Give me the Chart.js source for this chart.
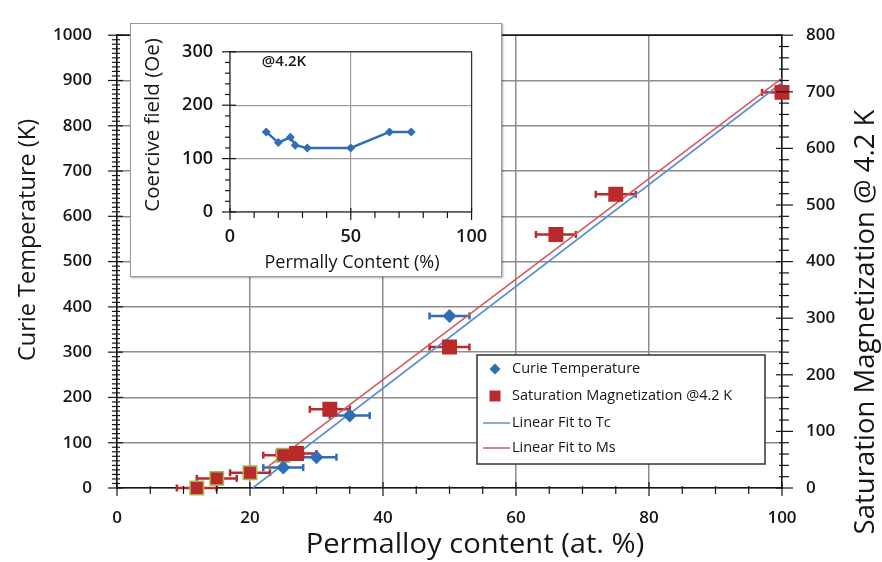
<!DOCTYPE html>
<html>
<head>
<meta charset="utf-8">
<script src="https://cdn.jsdelivr.net/npm/chart.js@4.4.1/dist/chart.umd.min.js"></script>
<style>
  html, body { margin: 0; padding: 0; background: #fff; }
  #wrap { position: relative; width: 882px; height: 562px; }
  #main { position: absolute; left: 0; top: 0; }
  #insetBox { position: absolute; left: 130px; top: 23px; width: 370px; height: 252px;
              background: #fff; border: 1px solid #9a9a9a; box-shadow: 1px 1px 2px rgba(0,0,0,0.35); }
  #inset { position: absolute; left: 0; top: 0; }
</style>
</head>
<body>
<div id="wrap">
  <canvas id="main" width="882" height="562"></canvas>
  <div id="insetBox"><canvas id="inset" width="370" height="252"></canvas></div>
</div>
<script>
// Curie temperature (left axis, K)
const tcContent = [25, 30, 35, 50];
const curieTemp = [45, 68, 160, 380];
const tcError = [3, 3, 3, 3];

// Saturation magnetization @4.2 K (right axis)
const msContent = [12, 15, 20, 25, 27, 32, 50, 66, 75, 100];
const satMag = [0, 17, 27, 58, 61, 139, 249, 448, 519, 699];
const msError = [3, 3, 3, 3, 3, 3, 3, 3, 3, 3];

// linear fits (end points)
const fitTcContent = [20.4, 100];
const fitTc = [0, 895];
const fitMsContent = [22.5, 100];
const fitMs = [36, 724];

// inset: coercive field @4.2K
const hcContent = [15, 20, 25, 27, 32, 50, 66, 75];
const coerciveField = [150, 130, 140, 125, 120, 120, 150, 150];

// tick labels
const xTicks = [0, 20, 40, 60, 80, 100];
const tcTicks = [0, 100, 200, 300, 400, 500, 600, 700, 800, 900, 1000];
const msTicks = [0, 100, 200, 300, 400, 500, 600, 700, 800];
const insetXTicks = [0, 50, 100];
const insetYTicks = [0, 100, 200, 300];

const BLUE = '#2f6db5';
const RED = '#bb2a2a';
const BLUE_FIT = '#5b90d2';
const RED_FIT = '#d4585a';
const OLIVE = '#9bbb59';
const GRID = '#8c8c8c';
const INK = '#161616';
const FONT = '"Open Sans", "DejaVu Sans", sans-serif';

const pts = (xs, ys) => xs.map((x, i) => ({ x: x, y: ys[i] }));
const setTicks = list => scale => { scale.ticks = list.map(v => ({ value: v })); };
const plain = v => String(v);

function drawText(ctx, text, x, y, font, rot, stretch) {
    ctx.save();
    ctx.translate(x, y);
    ctx.rotate(rot || 0);
    ctx.scale(stretch || 1, 1);
    ctx.font = font;
    ctx.fillStyle = INK;
    ctx.textAlign = 'center';
    ctx.textBaseline = 'middle';
    ctx.fillText(text, 0, 0);
    ctx.restore();
}

function line(ctx, x1, y1, x2, y2) {
    ctx.beginPath();
    ctx.moveTo(x1, y1);
    ctx.lineTo(x2, y2);
    ctx.stroke();
}

// horizontal error bars, drawn under the markers
const errorBars = {
    id: 'errorBars',
    beforeDatasetsDraw(chart) {
        const ctx = chart.ctx, area = chart.chartArea, xs = chart.scales.x;
        chart.data.datasets.forEach(ds => {
            if (!ds.errX) return;
            const ys = chart.scales[ds.yAxisID];
            ctx.save();
            ctx.strokeStyle = ds.backgroundColor;
            ctx.lineWidth = 2.5;
            ds.data.forEach((p, i) => {
                const y = ys.getPixelForValue(p.y);
                const a = xs.getPixelForValue(p.x - ds.errX[i]);
                const b = xs.getPixelForValue(p.x + ds.errX[i]);
                const l = Math.max(a, area.left), r = Math.min(b, area.right);
                line(ctx, l, y, r, y);
                if (a >= area.left) line(ctx, a, y - 3.5, a, y + 3.5);
                if (b <= area.right) line(ctx, b, y - 3.5, b, y + 3.5);
            });
            ctx.restore();
        });
    }
};

// frame, tick marks, axis titles and legend of the main chart
const mainDecor = {
    id: 'mainDecor',
    afterDraw(chart) {
        const ctx = chart.ctx, area = chart.chartArea;
        const xs = chart.scales.x, yT = chart.scales.yT, yM = chart.scales.yM;
        ctx.save();
        ctx.strokeStyle = INK;
        ctx.lineWidth = 1.5;
        line(ctx, area.left, area.top, area.right, area.top);
        ctx.lineWidth = 1.2;
        for (let v = 0; v <= 1000; v += 10) {
            const y = yT.getPixelForValue(v);
            if (v % 100 === 0) line(ctx, area.left - 9, y, area.left + 6, y);
            else line(ctx, area.left - 5, y, area.left + 3, y);
        }
        for (let v = 0; v <= 800; v += 20) {
            const y = yM.getPixelForValue(v);
            if (v % 100 === 0) line(ctx, area.right - 6, y, area.right + 11, y);
            else line(ctx, area.right - 3, y, area.right + 7, y);
        }
        for (let v = 0; v <= 100; v += 5) {
            const x = xs.getPixelForValue(v);
            if (v % 20 === 0) line(ctx, x, area.bottom - 6, x, area.bottom + 8);
            else line(ctx, x, area.bottom - 2, x, area.bottom + 6);
        }
        ctx.restore();

        drawText(ctx, 'Curie Temperature (K)', 28, 240, '23.5px ' + FONT, -Math.PI / 2);
        drawText(ctx, 'Permalloy content (at. %)', 475, 545, '27px ' + FONT, 0, 1.08);
        drawText(ctx, 'Saturation Magnetization @ 4.2 K', 866, 322, '27.5px ' + FONT, -Math.PI / 2);

        // legend
        const lx = 477, ly = 355, lw = 288, lh = 109;
        ctx.save();
        ctx.fillStyle = '#fff';
        ctx.fillRect(lx, ly, lw, lh);
        ctx.strokeStyle = '#333';
        ctx.lineWidth = 1.5;
        ctx.strokeRect(lx, ly, lw, lh);
        const rows = [369, 396, 423, 448];
        chart.data.datasets.forEach((ds, i) => {
            const y = rows[i];
            if (ds.showLine) {
                ctx.strokeStyle = ds.borderColor;
                ctx.lineWidth = 1.5;
                line(ctx, 483, y, 510, y);
            } else {
                ctx.fillStyle = ds.backgroundColor;
                ctx.beginPath();
                if (ds.pointStyle === 'rectRot') {
                    ctx.moveTo(495, y - 5.5); ctx.lineTo(500.5, y);
                    ctx.lineTo(495, y + 5.5); ctx.lineTo(489.5, y);
                    ctx.closePath();
                } else {
                    ctx.rect(489.5, y - 5.5, 11, 11);
                }
                ctx.fill();
            }
            ctx.font = '14.5px ' + FONT;
            ctx.fillStyle = INK;
            ctx.textAlign = 'left';
            ctx.textBaseline = 'middle';
            ctx.fillText(ds.label, 512, y);
        });
        ctx.restore();
    }
};

const tickFont = { family: FONT, size: 17, weight: '600' };

new Chart(document.getElementById('main'), {
    type: 'scatter',
    data: {
        datasets: [
            {
                label: 'Curie Temperature',
                data: pts(tcContent, curieTemp),
                errX: tcError,
                yAxisID: 'yT',
                pointStyle: 'rectRot',
                pointRadius: 7,
                backgroundColor: BLUE,
                borderColor: BLUE,
                borderWidth: 0,
                clip: false,
                order: 1
            },
            {
                label: 'Saturation Magnetization @4.2 K',
                data: pts(msContent, satMag),
                errX: msError,
                yAxisID: 'yM',
                pointStyle: 'rect',
                pointRadius: 9.5,
                backgroundColor: RED,
                pointBorderColor: c => (c.dataIndex < 4 ? OLIVE : RED),
                pointBorderWidth: 1.5,
                clip: false,
                order: 2
            },
            {
                label: 'Linear Fit to Tc',
                data: pts(fitTcContent, fitTc),
                yAxisID: 'yT',
                showLine: true,
                pointRadius: 0,
                borderColor: BLUE_FIT,
                borderWidth: 1.6,
                clip: false,
                order: 3
            },
            {
                label: 'Linear Fit to Ms',
                data: pts(fitMsContent, fitMs),
                yAxisID: 'yM',
                showLine: true,
                pointRadius: 0,
                borderColor: RED_FIT,
                borderWidth: 1.6,
                clip: false,
                order: 4
            }
        ]
    },
    options: {
        responsive: false,
        animation: false,
        devicePixelRatio: 1,
        layout: { padding: { top: 15, left: 0, right: 0, bottom: 0 } },
        plugins: { legend: { display: false }, tooltip: { enabled: false } },
        scales: {
            x: {
                type: 'linear', min: 0, max: 100,
                afterBuildTicks: setTicks(xTicks),
                afterFit: s => { s.height = 74; },
                grid: { color: GRID, lineWidth: 1.5, drawTicks: false },
                border: { color: INK, width: 1.5 },
                ticks: { font: tickFont, color: INK, padding: 20, callback: plain }
            },
            yT: {
                type: 'linear', position: 'left', min: 0, max: 1000,
                afterBuildTicks: setTicks(tcTicks),
                afterFit: s => { s.width = 117; },
                grid: { color: GRID, lineWidth: 1.5, drawTicks: false },
                border: { color: INK, width: 1.5 },
                ticks: { font: tickFont, color: INK, padding: 25, callback: plain }
            },
            yM: {
                type: 'linear', position: 'right', min: 0, max: 800,
                afterBuildTicks: setTicks(msTicks),
                afterFit: s => { s.width = 100; },
                grid: { display: false, drawTicks: false },
                border: { color: INK, width: 1.5 },
                ticks: { font: tickFont, color: INK, padding: 24, callback: plain }
            }
        }
    },
    plugins: [errorBars, mainDecor]
});

// inset chart
const insetDecor = {
    id: 'insetDecor',
    afterDraw(chart) {
        const ctx = chart.ctx, area = chart.chartArea;
        const xs = chart.scales.x, ys = chart.scales.y;
        ctx.save();
        ctx.strokeStyle = '#333';
        ctx.lineWidth = 1.2;
        ctx.strokeRect(area.left, area.top, area.right - area.left, area.bottom - area.top);
        ctx.strokeStyle = INK;
        for (let v = 0; v <= 300; v += 20) {
            const y = ys.getPixelForValue(v);
            if (v % 100 === 0) line(ctx, area.left - 8, y, area.left + 6, y);
            else line(ctx, area.left - 5, y, area.left, y);
        }
        for (let v = 0; v <= 100; v += 10) {
            const x = xs.getPixelForValue(v);
            if (v % 50 === 0) line(ctx, x, area.bottom - 4, x, area.bottom + 8);
            else line(ctx, x, area.bottom, x, area.bottom + 6);
        }
        ctx.restore();
        drawText(ctx, 'Coercive field (Oe)', 22, 101, '20.5px ' + FONT, -Math.PI / 2);
        drawText(ctx, 'Permally Content (%)', 221, 239, '18px ' + FONT, 0);
        drawText(ctx, '@4.2K', 153, 38, '600 15px ' + FONT, 0);
    }
};

const insetFont = { family: FONT, size: 18, weight: '600' };

new Chart(document.getElementById('inset'), {
    type: 'scatter',
    data: {
        datasets: [{
            label: 'Coercive field',
            data: pts(hcContent, coerciveField),
            showLine: true,
            borderColor: BLUE,
            borderWidth: 2.5,
            backgroundColor: BLUE,
            pointStyle: 'rectRot',
            pointRadius: 4.5,
            pointBorderWidth: 0
        }]
    },
    options: {
        responsive: false,
        animation: false,
        devicePixelRatio: 1,
        layout: { padding: { top: 9, left: 0, right: 28, bottom: 0 } },
        plugins: { legend: { display: false }, tooltip: { enabled: false } },
        scales: {
            x: {
                type: 'linear', min: 0, max: 100,
                afterBuildTicks: setTicks(insetXTicks),
                afterFit: s => { s.height = 64; },
                grid: { color: '#9a9a9a', lineWidth: 1.2, drawTicks: false },
                border: { display: false },
                ticks: { font: insetFont, color: INK, padding: 14, callback: plain }
            },
            y: {
                type: 'linear', min: 0, max: 300,
                afterBuildTicks: setTicks(insetYTicks),
                afterFit: s => { s.width = 99; },
                grid: { color: '#9a9a9a', lineWidth: 1.2, drawTicks: false },
                border: { display: false },
                ticks: { font: insetFont, color: INK, padding: 17, callback: plain }
            }
        }
    },
    plugins: [insetDecor]
});
</script>
</body>
</html>
